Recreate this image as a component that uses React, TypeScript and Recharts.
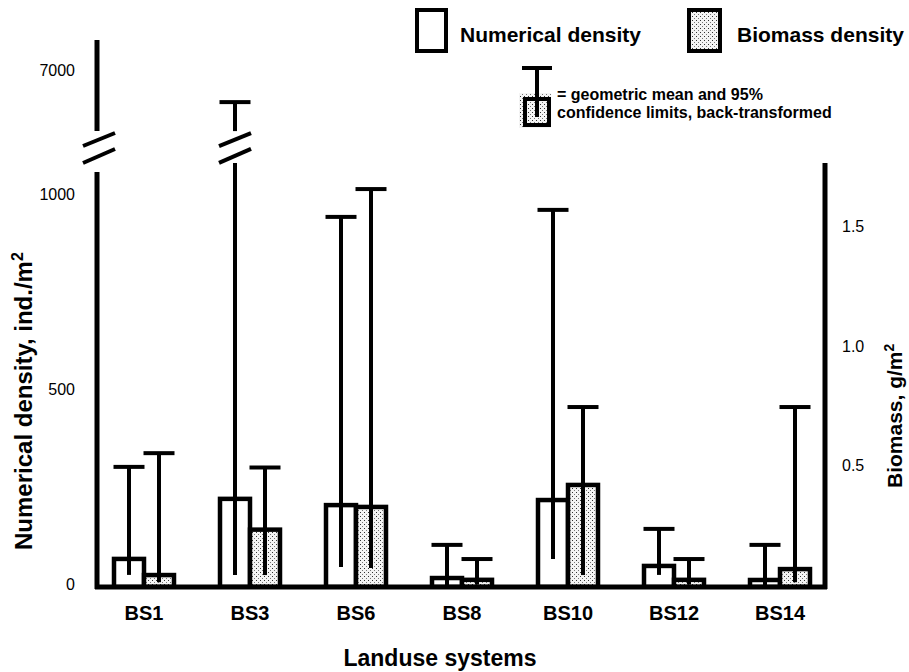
import { ComposedChart, Bar, XAxis, YAxis, Legend } from "recharts";

const categories = ["BS1", "BS3", "BS6", "BS8", "BS10", "BS12", "BS14"];
// numerical density, ind./m2 - geometric mean and 95% confidence limits
const numMean = [72, 226, 210, 23, 223, 54, 18];
const numLow = [31, 31, 51, 5, 72, 31, 5];
const numHigh = [308, 6500, 949, 108, 967, 149, 108];
// biomass density, g/m2
const bioMean = [0.05, 0.24, 0.335, 0.03, 0.427, 0.03, 0.075];
const bioLow = [0.02, 0.05, 0.08, 0.01, 0.05, 0.01, 0.02];
const bioHigh = [0.56, 0.5, 1.665, 0.117, 0.753, 0.117, 0.753];

const leftTicks = [0, 500, 1000, 7000];
const rightTicks = [0.5, 1.0, 1.5];

// left axis is broken between BREAK_FROM and BREAK_TO, upper part compressed
const BREAK_FROM = 1090;
const BREAK_TO = 6000;
const BREAK_GAP = 79;
const UPPER_SCALE = 0.1487;
const LEFT_MAX = 1402.6;
const RIGHT_MAX = 2.2887;

const toAxis = (v: number) =>
  v <= BREAK_FROM ? v : BREAK_FROM + BREAK_GAP + (v - BREAK_TO) * UPPER_SCALE;

const data = categories.map((name, i) => ({
  name,
  num: numMean[i],
  numLow: numLow[i],
  numHigh: toAxis(numHigh[i]),
  bio: bioMean[i],
  bioLow: bioLow[i],
  bioHigh: bioHigh[i],
}));

const FONT = "'Liberation Sans', Arial, sans-serif";

function CiBar(props: any) {
  const { x, y, width, height, payload, meanKey, lowKey, highKey, fill } = props;
  const base = y + height;
  const ppu = height / payload[meanKey];
  const cx = x + width / 2;
  const yLow = base - payload[lowKey] * ppu;
  const high = payload[highKey];
  const yHigh = base - high * ppu;
  const broken = high > BREAK_FROM;
  const yGapBottom = base - BREAK_FROM * ppu;
  const yGapTop = base - (BREAK_FROM + BREAK_GAP) * ppu;
  return (
    <g>
      <rect x={x} y={y} width={width} height={height} fill={fill} stroke="#000" strokeWidth={4.5} />
      {broken ? (
        <g stroke="#000" strokeWidth={4}>
          <line x1={cx} x2={cx} y1={yLow} y2={yGapBottom + 1} />
          <line x1={cx} x2={cx} y1={yGapTop} y2={yHigh} />
          <line x1={cx - 16} y1={yGapTop + 15} x2={cx + 16} y2={yGapTop + 2} />
          <line x1={cx - 16} y1={yGapBottom + 1} x2={cx + 16} y2={yGapBottom - 13} />
        </g>
      ) : (
        <line x1={cx} x2={cx} y1={yLow} y2={yHigh} stroke="#000" strokeWidth={4} />
      )}
      <line x1={cx - 15.5} x2={cx + 15.5} y1={yHigh} y2={yHigh} stroke="#000" strokeWidth={4} />
    </g>
  );
}

function CatTick(props: any) {
  const { x, y, payload } = props;
  return (
    <text x={x} y={y + 33} textAnchor="middle" fontSize={20} fontWeight="bold" fontFamily={FONT} fill="#000">
      {payload.value}
    </text>
  );
}

function LeftTick(props: any) {
  const { x, y, payload } = props;
  const idx = leftTicks.findIndex((t) => Math.abs(toAxis(t) - payload.value) < 0.01);
  return (
    <text x={x} y={y - 3} dy="0.35em" textAnchor="end" fontSize={16} fontFamily={FONT} fill="#000">
      {idx >= 0 ? leftTicks[idx] : ""}
    </text>
  );
}

function RightTick(props: any) {
  const { x, y, payload } = props;
  return (
    <text x={x} y={y - 2} dy="0.35em" textAnchor="start" fontSize={16} fontFamily={FONT} fill="#000">
      {Number(payload.value).toFixed(1)}
    </text>
  );
}

function LegendBox() {
  return (
    <svg width={909} height={140} style={{ display: "block" }} fontFamily={FONT}>
      <rect x={417} y={10} width={29} height={41} fill="#fff" stroke="#000" strokeWidth={4} />
      <text x={460} y={42} fontSize={21} fontWeight="bold">Numerical density</text>
      <rect x={689} y={10} width={31} height={41} fill="url(#dots)" stroke="#000" strokeWidth={4} />
      <text x={737} y={42} fontSize={21} fontWeight="bold">Biomass density</text>
      <rect x={519} y={93} width={32} height={35} fill="url(#dots)" />
      <rect x={525} y={99} width={24} height={26} fill="url(#dots)" stroke="#000" strokeWidth={4} />
      <line x1={522} x2={552} y1={68} y2={68} stroke="#000" strokeWidth={4} />
      <line x1={537} x2={537} y1={68} y2={117} stroke="#000" strokeWidth={4} />
      <text x={557} y={100} fontSize={16} fontWeight="bold">= geometric mean and 95%</text>
      <text x={557} y={118} fontSize={16} fontWeight="bold">confidence limits, back-transformed</text>
    </svg>
  );
}

export default function App() {
  return (
    <div style={{ position: "absolute", left: 0, top: 0, width: 909, height: 672, background: "#fff" }}>
      <ComposedChart
        width={909}
        height={672}
        data={data}
        margin={{ top: 40, right: 22, bottom: 55, left: 37 }}
        barGap={0}
      >
        <XAxis
          dataKey="name"
          axisLine={false}
          tickLine={false}
          tickSize={0}
          tickMargin={0}
          height={30}
          interval={0}
          tick={<CatTick />}
        />
        <YAxis
          yAxisId="left"
          domain={[0, LEFT_MAX]}
          ticks={leftTicks.map(toAxis)}
          allowDataOverflow
          axisLine={false}
          tickLine={false}
          tickSize={0}
          tickMargin={16}
          width={54}
          interval={0}
          tick={<LeftTick />}
        />
        <YAxis
          yAxisId="right"
          orientation="right"
          domain={[0, RIGHT_MAX]}
          ticks={rightTicks}
          allowDataOverflow
          axisLine={false}
          tickLine={false}
          tickSize={0}
          tickMargin={9}
          width={54}
          interval={0}
          tick={<RightTick />}
        />
        <Legend
          layout="vertical"
          verticalAlign="middle"
          align="center"
          wrapperStyle={{ top: 0, left: 0, width: 909, height: 140 }}
          content={() => <LegendBox />}
        />
        <Bar
          yAxisId="left"
          dataKey="num"
          name="Numerical density"
          barSize={30}
          isAnimationActive={false}
          shape={(p: any) => <CiBar {...p} meanKey="num" lowKey="numLow" highKey="numHigh" fill="#fff" />}
        />
        <Bar
          yAxisId="right"
          dataKey="bio"
          name="Biomass density"
          barSize={30}
          isAnimationActive={false}
          shape={(p: any) => <CiBar {...p} meanKey="bio" lowKey="bioLow" highKey="bioHigh" fill="url(#dots)" />}
        />
      </ComposedChart>
      <svg
        width={909}
        height={672}
        style={{ position: "absolute", left: 0, top: 0, pointerEvents: "none" }}
        fontFamily={FONT}
      >
        <defs>
          <pattern id="dots" width={4} height={4} patternUnits="userSpaceOnUse">
            <rect width={4} height={4} fill="#f4f4f4" />
            <rect x={0} y={0} width={1} height={1} fill="#333" />
            <rect x={2} y={2} width={1} height={1} fill="#777" />
          </pattern>
        </defs>
        <g stroke="#000" strokeWidth={5}>
          <line x1={97} x2={97} y1={40} y2={131} />
          <line x1={97} x2={97} y1={172} y2={589} />
          <line x1={825} x2={825} y1={163} y2={589} />
          <line x1={95} x2={827} y1={587} y2={587} />
        </g>
        <g stroke="#000" strokeWidth={4}>
          <line x1={83} y1={146} x2={115} y2={133} />
          <line x1={83} y1={163} x2={115} y2={149} />
        </g>
        <text transform="translate(32,550) rotate(-90)" fontSize={24} fontWeight="bold" fill="#000">
          Numerical density, ind./m<tspan dy={-9} fontSize={16}>2</tspan>
        </text>
        <text transform="translate(902,488) rotate(-90)" fontSize={21} fontWeight="bold" fill="#000">
          Biomass, g/m<tspan dy={-8} fontSize={14}>2</tspan>
        </text>
        <text x={440} y={666} textAnchor="middle" fontSize={23} fontWeight="bold" fill="#000">
          Landuse systems
        </text>
      </svg>
    </div>
  );
}
